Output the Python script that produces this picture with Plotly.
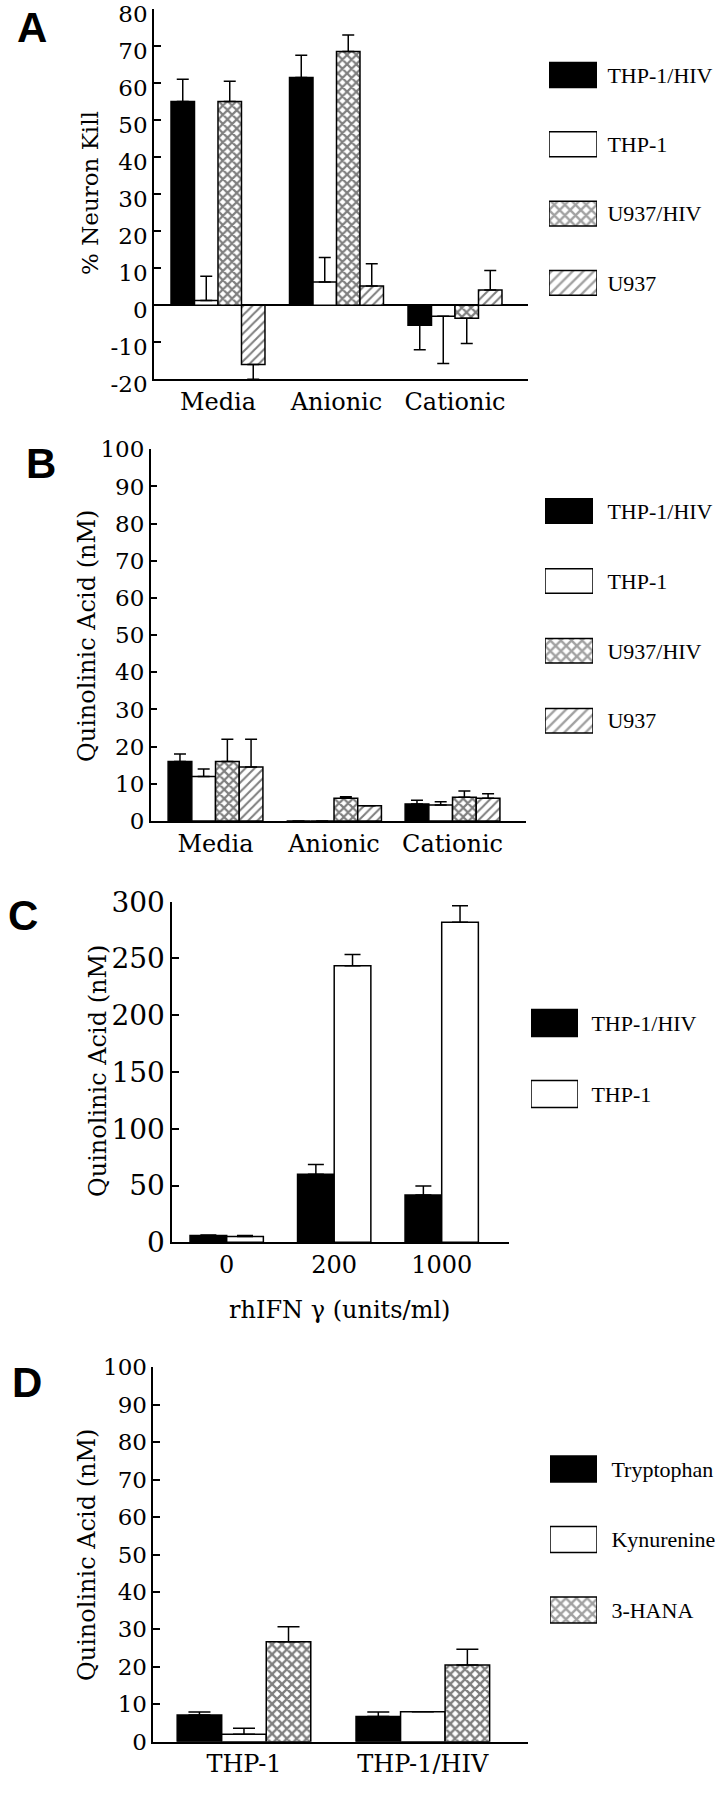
import plotly.graph_objects as go

W, H = 724, 1800

# ---- panel A : % neuron kill ----
a_groups = ['Media', 'Anionic', 'Cationic']
a_names = ['THP-1/HIV', 'THP-1', 'U937/HIV', 'U937']
a_thp_hiv = [55, 61.5, -5.4]
a_thp = [1.3, 6.3, -3.0]
a_u937_hiv = [55, 68.5, -3.5]
a_u937 = [-16, 5.2, 4.1]
a_thp_hiv_err = [6, 6, 6.6]
a_thp_err = [6.5, 6.6, 12.7]
a_u937_hiv_err = [5.5, 4.5, 6.8]
a_u937_err = [4, 6, 5.3]
a_ticks = [-20, -10, 0, 10, 20, 30, 40, 50, 60, 70, 80]

# ---- panel B : quinolinic acid ----
b_groups = ['Media', 'Anionic', 'Cationic']
b_names = ['THP-1/HIV', 'THP-1', 'U937/HIV', 'U937']
b_thp_hiv = [16, 0, 4.6]
b_thp = [12, 0, 4.3]
b_u937_hiv = [16, 6.1, 6.4]
b_u937 = [14.5, 4.1, 6.1]
b_thp_hiv_err = [2, 0, 1]
b_thp_err = [2, 0, 0.9]
b_u937_hiv_err = [6, 0.4, 1.7]
b_u937_err = [7.5, 0, 1.2]

# ---- panel C : rhIFN gamma ----
c_groups = ['0', '200', '1000']
c_names = ['THP-1/HIV', 'THP-1']
c_thp_hiv = [6, 60, 41.6]
c_thp = [5, 243.5, 282]
c_thp_hiv_err = [0.5, 8.5, 8]
c_thp_err = [1, 10, 14.5]

# ---- panel D : precursors ----
d_groups = ['THP-1', 'THP-1/HIV']
d_names = ['Tryptophan', 'Kynurenine', '3-HANA']
d_trp = [7.1, 6.7]
d_kyn = [2, 8]
d_hana = [26.7, 20.5]
d_trp_err = [0.8, 1.2]
d_kyn_err = [1.6, 0]
d_hana_err = [4, 4.2]

# fill style per series: (fill colour, pattern)
styles = {
    'THP-1/HIV': ('black', ''),
    'THP-1': ('white', ''),
    'U937/HIV': ('white', 'x'),
    'U937': ('white', '/'),
    'Tryptophan': ('black', ''),
    'Kynurenine': ('white', ''),
    '3-HANA': ('white', 'x'),
}
# line weight of the hatching differs per pattern type in plotly
solid = {'': 0.3, 'x': 0.55, '/': 0.32}

SERIF = 'DejaVu Serif'
TIMES = 'Liberation Serif'


def px(x):
    return min(max(x / W, 0), 1)


def py(y):
    return min(max(1 - y / H, 0), 1)


fig = go.Figure()


def add_panel(k, groups, names, series, errs, group_w, pat_size, cap):
    n = len(names)
    bw = group_w / n
    for i, (name, vals, err) in enumerate(zip(names, series, errs)):
        color, shape = styles[name]
        plus = [e if v >= 0 else 0 for v, e in zip(vals, err)]
        minus = [e if v < 0 else 0 for v, e in zip(vals, err)]
        fig.add_trace(go.Bar(
            x=groups, y=vals, name=name,
            width=bw, offset=-group_w / 2 + i * bw,
            marker=dict(color=color, line=dict(color='black', width=1.5),
                        pattern=dict(shape=shape, fgcolor='black', bgcolor=color,
                                     size=pat_size, solidity=solid[shape])),
            error_y=dict(type='data', symmetric=False, array=plus, arrayminus=minus,
                         color='black', thickness=1.5, width=cap),
            xaxis='x%d' % k, yaxis='y%d' % k, showlegend=False,
        ))


def add_key(k, names, pat_size, bar_frac):
    colors = [styles[nm][0] for nm in names]
    shapes = [styles[nm][1] for nm in names]
    fig.add_trace(go.Bar(
        y=names, x=[1 for _ in names], orientation='h', width=bar_frac,
        marker=dict(color=colors, line=dict(color='black', width=1.5),
                    pattern=dict(shape=shapes, fgcolor='black', bgcolor=colors,
                                 size=pat_size, solidity=[solid[s] for s in shapes])),
        xaxis='x%d' % k, yaxis='y%d' % k, showlegend=False, hoverinfo='skip',
    ))


add_panel(1, a_groups, a_names, [a_thp_hiv, a_thp, a_u937_hiv, a_u937],
          [a_thp_hiv_err, a_thp_err, a_u937_hiv_err, a_u937_err], 0.793, 6.5, 6)
add_panel(2, b_groups, b_names, [b_thp_hiv, b_thp, b_u937_hiv, b_u937],
          [b_thp_hiv_err, b_thp_err, b_u937_hiv_err, b_u937_err], 0.8, 6.5, 6)
add_panel(3, c_groups, c_names, [c_thp_hiv, c_thp], [c_thp_hiv_err, c_thp_err], 0.682, 6.5, 8)
add_panel(4, d_groups, d_names, [d_trp, d_kyn, d_hana], [d_trp_err, d_kyn_err, d_hana_err],
          0.747, 7, 11)

add_key(5, a_names, 7.5, 0.36)
add_key(6, b_names, 7.5, 0.35)
add_key(7, c_names, 7.5, 0.38)
add_key(8, d_names, 7.5, 0.37)

# panel geometry in pixels: x0, x1, ytop, ybottom, x range, y range, tick size, dtick, label shift
panels = {
    1: (154, 528, 9, 379.3, [-0.54, 2.616], [-20, 80], 23, 10, 5),
    2: (150.7, 526, 449.3, 821, [-0.547, 2.62], [0, 100], 23, 10, 0),
    3: (172.3, 509, 901.7, 1242.3, [-0.506, 2.626], [0, 300], 28, 50, 0),
    4: (153.3, 528, 1367.3, 1741.7, [-0.507, 1.588], [0, 100], 23, 10, 0),
}
cat_size = {1: 24, 2: 24, 3: 24, 4: 24}

lay = {}
for k, (x0, x1, yt, yb, xr, yr, tsize, dt, shift) in panels.items():
    lay['xaxis%d' % k] = dict(
        domain=[px(x0), px(x1)], anchor='y%d' % k, type='category', range=xr,
        showline=True, linecolor='black', linewidth=1.5, ticks='', showgrid=False,
        zeroline=False, automargin=False, ticklabeloverflow='allow',
        tickfont=dict(family=SERIF, size=cat_size[k], color='black'),
    )
    yax = dict(
        domain=[py(yb), py(yt)], anchor='x%d' % k, range=yr, dtick=dt,
        showline=True, linecolor='black', linewidth=1.5, ticks='inside', ticklen=7,
        tickwidth=1.5, tickcolor='black', showgrid=False, automargin=False,
        ticklabeloverflow='allow', ticklabelshift=shift,
        zeroline=(k == 1), zerolinecolor='black', zerolinewidth=1.5,
        tickfont=dict(family=SERIF, size=tsize, color='black'),
    )
    if k == 1:
        yax.update(tickmode='array', tickvals=a_ticks, ticktext=[str(v) for v in a_ticks])
    lay['yaxis%d' % k] = yax

# key boxes: x0, x1, first centre, spacing, count, gap to label
keys = {
    5: (549, 597, 75, 69.3, 4, 5),
    6: (545, 593, 511, 69.9, 4, 9),
    7: (531, 578, 1023, 71, 2, 8),
    8: (550, 597, 1469, 70.5, 3, 9),
}
for k, (x0, x1, c0, sp, n, gap) in keys.items():
    top = c0 - sp / 2
    bot = c0 + sp * (n - 1) + sp / 2
    lay['xaxis%d' % k] = dict(domain=[px(x0), px(x1)], anchor='y%d' % k, range=[0, 1],
                              visible=False, automargin=False)
    lay['yaxis%d' % k] = dict(
        domain=[py(bot), py(top)], anchor='x%d' % k, type='category',
        range=[n - 0.5, -0.5], side='right', showline=False, showgrid=False,
        zeroline=False, ticks='outside', ticklen=gap, tickcolor='rgba(0,0,0,0)',
        automargin=False, ticklabeloverflow='allow',
        tickfont=dict(family=TIMES, size=22, color='black'),
    )

notes = []
for letter, x, y in [('A', 32, 28), ('B', 41, 463), ('C', 23, 915), ('D', 27, 1382)]:
    notes.append(dict(text=letter, x=px(x), y=py(y), xref='paper', yref='paper',
                      xanchor='center', yanchor='middle', showarrow=False,
                      font=dict(family='Liberation Sans', size=42, color='black', weight='bold')))
for txt, x, y, size in [('% Neuron Kill', 90, 193, 23),
                        ('Quinolinic Acid (nM)', 87, 636, 24),
                        ('Quinolinic Acid (nM)', 98, 1071, 24),
                        ('Quinolinic Acid (nM)', 87, 1555, 24)]:
    notes.append(dict(text=txt, x=px(x), y=py(y), xref='paper', yref='paper',
                      xanchor='center', yanchor='middle', showarrow=False, textangle=-90,
                      font=dict(family=SERIF, size=size, color='black')))
notes.append(dict(text='rhIFN γ (units/ml)', x=px(339), y=py(1310), xref='paper', yref='paper',
                  xanchor='center', yanchor='middle', showarrow=False,
                  font=dict(family=SERIF, size=24, color='black')))

fig.update_layout(
    width=W, height=H, margin=dict(l=0, r=0, t=0, b=0, autoexpand=False),
    paper_bgcolor='white', plot_bgcolor='white', barmode='group',
    annotations=notes, **lay,
)

# drop the browser's default 8px body margin so the figure sits at the page corner
fig.write_html('out.html', config={'displayModeBar': False},
               post_script="document.body.style.margin = '0px';")
